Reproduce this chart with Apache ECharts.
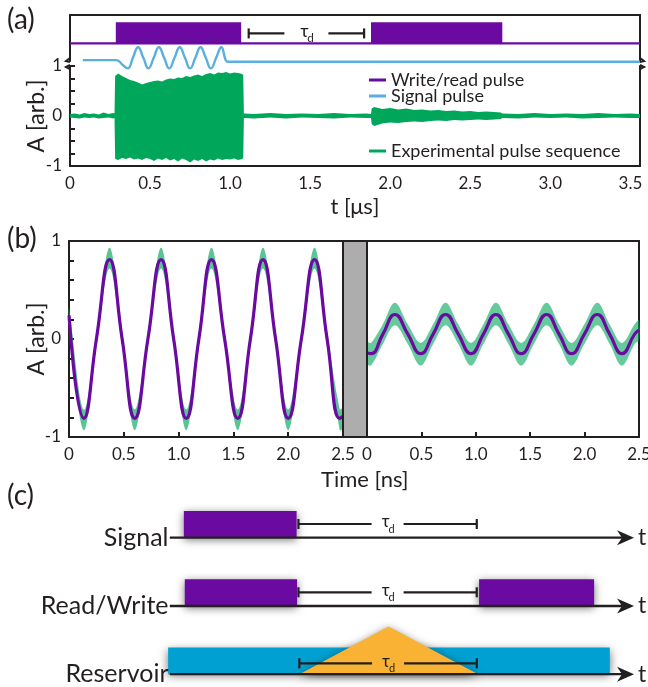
<!DOCTYPE html>
<html>
<head>
<meta charset="utf-8">
<script src="https://cdn.jsdelivr.net/npm/echarts@6/dist/echarts.min.js"></script>
<style>
html, body { margin: 0; padding: 0; background: #fff; }
#main { width: 648px; height: 687px; }
</style>
</head>
<body>
<div id="main"></div>
<script>
// ---- panel (a): pulse sequence, time in μs ----
const pulseWindows = [[0.286, 1.069], [1.88, 2.70]];   // write pulse, read pulse
const pulseBase = 0.385;
const pulseTop = 0.84;
const tauA = [[1.116, 1.837, 0.60]];

const sigT = [0.08, 0.29, 0.327, 0.36, 0.393, 0.425, 0.458, 0.49, 0.523, 0.555, 0.588, 0.62, 0.653,
  0.685, 0.718, 0.75, 0.783, 0.815, 0.848, 0.88, 0.913, 0.945, 0.972, 0.985, 3.56];
const sigA = [0.02, 0.02, -0.08, -0.16, 0.07, 0.30, 0.07, -0.16, 0.07, 0.30, 0.07, -0.16, 0.07,
  0.30, 0.07, -0.16, 0.07, 0.30, 0.07, -0.16, 0.07, 0.30, 0.02, -0.015, -0.015];

// experimental trace, upper / lower envelope
const expT = [0.00, 0.03, 0.06, 0.09, 0.12, 0.15, 0.18, 0.21, 0.24, 0.27, 0.278,
  0.282, 0.30, 0.325, 0.35, 0.375, 0.40, 0.425, 0.45, 0.475, 0.50, 0.525, 0.55, 0.575, 0.60,
  0.625, 0.65, 0.675, 0.70, 0.725, 0.75, 0.775, 0.80, 0.825, 0.85, 0.875, 0.90, 0.925, 0.95,
  0.975, 1.00, 1.025, 1.05, 1.075, 1.082,
  1.086, 1.15, 1.25, 1.35, 1.45, 1.55, 1.65, 1.75, 1.85, 1.880,
  1.884, 1.90, 1.95, 2.00, 2.05, 2.10, 2.15, 2.20, 2.25, 2.30, 2.35, 2.40, 2.45, 2.50, 2.55,
  2.60, 2.65, 2.69, 2.70,
  2.80, 2.90, 3.00, 3.10, 3.20, 3.30, 3.40, 3.50, 3.56];
const expHi = [0.04, 0.05, 0.03, 0.06, 0.04, 0.05, 0.03, 0.07, 0.04, 0.06, 0.05,
  0.80, 0.85, 0.80, 0.76, 0.72, 0.70, 0.67, 0.63, 0.66, 0.68, 0.70, 0.71, 0.69, 0.73,
  0.75, 0.74, 0.77, 0.76, 0.80, 0.78, 0.81, 0.83, 0.80, 0.84, 0.86, 0.83, 0.87, 0.86,
  0.88, 0.85, 0.87, 0.86, 0.84, 0.82,
  0.05, 0.04, 0.06, 0.04, 0.05, 0.04, 0.06, 0.04, 0.05, 0.04,
  0.15, 0.18, 0.14, 0.16, 0.13, 0.15, 0.12, 0.13, 0.11, 0.12, 0.10, 0.11, 0.09, 0.10, 0.08,
  0.09, 0.08, 0.07, 0.05,
  0.04, 0.06, 0.04, 0.05, 0.04, 0.06, 0.04, 0.05, 0.04];
const expLo = [-0.03, -0.04, -0.05, -0.03, -0.04, -0.03, -0.05, -0.04, -0.03, -0.05, -0.04,
  -0.86, -0.88, -0.84, -0.86, -0.83, -0.87, -0.85, -0.88, -0.84, -0.86, -0.90, -0.85, -0.88, -0.84,
  -0.89, -0.86, -0.91, -0.85, -0.88, -0.93, -0.87, -0.90, -0.86, -0.91, -0.87, -0.89, -0.85, -0.88,
  -0.86, -0.87, -0.85, -0.88, -0.86, -0.84,
  -0.04, -0.05, -0.03, -0.05, -0.03, -0.04, -0.05, -0.03, -0.04, -0.04,
  -0.16, -0.20, -0.15, -0.13, -0.14, -0.12, -0.11, -0.12, -0.10, -0.09, -0.10, -0.08, -0.09, -0.08, -0.07,
  -0.08, -0.07, -0.06, -0.04,
  -0.05, -0.03, -0.04, -0.03, -0.05, -0.04, -0.03, -0.04, -0.04];

// ---- panel (b): write (left) and read (right) traces, time in ns ----
const bLT = [0, 0.135, 0.25, 0.37, 0.485, 0.60, 0.72, 0.84, 0.955, 1.07, 1.185, 1.30, 1.42,
  1.54, 1.655, 1.77, 1.885, 2.00, 2.12, 2.24, 2.355, 2.47, 2.5];
const bLFit = [0.24, -0.81, 0, 0.81, 0, -0.81, 0, 0.81, 0, -0.81, 0, 0.81, 0,
  -0.81, 0, 0.81, 0, -0.81, 0, 0.81, 0, -0.81, -0.79];
const bLHi = [0.32, -0.72, 0.07, 0.93, 0.07, -0.72, 0.07, 0.93, 0.07, -0.72, 0.07, 0.93, 0.07,
  -0.72, 0.07, 0.93, 0.07, -0.72, 0.07, 0.93, 0.07, -0.72, -0.70];
const bLLo = [0.16, -0.93, -0.07, 0.72, -0.07, -0.93, -0.07, 0.72, -0.07, -0.93, -0.07, 0.72, -0.07,
  -0.93, -0.07, 0.72, -0.07, -0.93, -0.07, 0.72, -0.07, -0.93, -0.91];

const bRT = [0, 0.037, 0.146, 0.256, 0.375, 0.494, 0.608, 0.722, 0.839, 0.956, 1.07, 1.185,
  1.30, 1.417, 1.534, 1.651, 1.765, 1.88, 1.998, 2.117, 2.23, 2.343, 2.46, 2.5];
const bRFit = [-0.14, -0.15, 0.05, 0.25, 0.05, -0.15, 0.05, 0.25, 0.05, -0.15, 0.05, 0.25,
  0.05, -0.15, 0.05, 0.25, 0.05, -0.15, 0.05, 0.25, 0.05, -0.15, 0.05, 0.09];
const bRHi = [-0.03, -0.04, 0.15, 0.37, 0.15, -0.04, 0.15, 0.37, 0.15, -0.04, 0.15, 0.37,
  0.15, -0.04, 0.15, 0.37, 0.15, -0.04, 0.15, 0.37, 0.15, -0.04, 0.15, 0.19];
const bRLo = [-0.25, -0.27, -0.05, 0.14, -0.05, -0.27, -0.05, 0.14, -0.05, -0.27, -0.05, 0.14,
  -0.05, -0.27, -0.05, 0.14, -0.05, -0.27, -0.05, 0.14, -0.05, -0.27, -0.05, -0.01];

// ---- panel (c): schematic, arbitrary time units ----
const cRows = ['Reservoir', 'Read/Write', 'Signal'];
const cBoxes = [[0.30, 2.74, 2, 2.39], [0.32, 2.75, 1, 1.39], [6.69, 9.18, 1, 1.39]];
const cReservoir = [[-0.04, 9.52, 0, 0.39]];
const cTriangle = [[2.80, 4.73, 6.67, 0, 0.70]];
const cTau = [[2.78, 6.64, 2.20], [2.78, 6.64, 1.20], [2.80, 6.64, 0.16]];

const INK = '#231f20';
const PURPLE = '#6a0aa0';
const BLUE = '#5aafe0';
const GREEN = '#00a65a';
const FONT = 'Lato';

const zip = (xs, ys) => xs.map((x, i) => [x, ys[i]]);

const halfStep = v => Math.abs(v * 2 - Math.round(v * 2)) < 1e-6;
const xFmt = v => halfStep(v) ? (v === 0 ? '0' : v.toFixed(1)) : '';
const yFmt = v => (Math.abs(v - Math.round(v)) < 1e-6) ? String(Math.round(v)) : '';

function boxRender(shadow, color) {
    return function (params, api) {
        const a = api.coord([api.value(0), api.value(3)]);
        const b = api.coord([api.value(1), api.value(2)]);
        return {
            type: 'rect',
            shape: { x: a[0], y: a[1], width: b[0] - a[0], height: b[1] - a[1] },
            style: shadow
                ? { fill: color, shadowBlur: 9, shadowColor: 'rgba(0,0,0,0.55)', shadowOffsetY: 2 }
                : { fill: color }
        };
    };
}

// band between an upper and a lower envelope
function bandRender(xs, hi, lo, smooth, opacity) {
    return function (params, api) {
        const pts = [];
        for (let i = 0; i < xs.length; i++) pts.push(api.coord([xs[i], hi[i]]));
        for (let i = xs.length - 1; i >= 0; i--) pts.push(api.coord([xs[i], lo[i]]));
        return { type: 'polygon', shape: { points: pts, smooth: smooth }, style: { fill: GREEN, opacity: opacity } };
    };
}

function tauRender(gap, fs) {
    return function (params, api) {
        const p1 = api.coord([api.value(0), api.value(2)]);
        const p2 = api.coord([api.value(1), api.value(2)]);
        const mid = (p1[0] + p2[0]) / 2;
        const y = p1[1];
        const st = { stroke: INK, lineWidth: 2.2 };
        return {
            type: 'group',
            children: [
                { type: 'line', shape: { x1: p1[0], y1: y, x2: mid - gap, y2: y }, style: st },
                { type: 'line', shape: { x1: mid + gap, y1: y, x2: p2[0], y2: y }, style: st },
                { type: 'line', shape: { x1: p1[0], y1: y - 5, x2: p1[0], y2: y + 5 }, style: st },
                { type: 'line', shape: { x1: p2[0], y1: y - 5, x2: p2[0], y2: y + 5 }, style: st },
                { type: 'text', style: { text: 'τ', x: mid - 2, y: y - 2, fill: INK, fontSize: fs, fontFamily: FONT, align: 'center', verticalAlign: 'middle' } },
                { type: 'text', style: { text: 'd', x: mid + 4, y: y + 5, fill: INK, fontSize: fs * 0.65, fontFamily: FONT, align: 'center', verticalAlign: 'middle' } }
            ]
        };
    };
}

const lineAxis = { show: true, onZero: false, lineStyle: { color: INK, width: 2 } };
const noLabel = { show: false };
const noTick = { show: false };
const noSplit = { show: false };
const label17 = { color: INK, fontSize: 17, fontFamily: FONT };
const inTick = { show: true, inside: true, length: 5, lineStyle: { color: INK, width: 2 } };

const chart = echarts.init(document.getElementById('main'), null, { renderer: 'canvas' });

const arrowPath = 'path://M0,0 L6,12 L0,8.5 L-6,12 Z';

const rowSeries = cRows.map((name, i) => ({
    type: 'line', xAxisIndex: 6, yAxisIndex: 6, z: 6,
    lineStyle: { color: INK, width: 2.4 },
    itemStyle: { color: INK },
    data: [
        { value: [0, i], symbol: 'circle', symbolSize: 1,
          label: { show: true, position: 'left', distance: 1, formatter: name, fontSize: 25, color: INK, fontFamily: FONT } },
        { value: [9.86, i], symbol: arrowPath, symbolSize: [15, 17], symbolRotate: -90,
          label: { show: true, position: 'right', distance: 4, formatter: 't', fontSize: 23, color: INK, fontFamily: FONT } }
    ],
    silent: true
}));

const legendText = { fontSize: 18, color: INK, fontFamily: FONT, lineHeight: 16 };

const yTitle = (cy) => ({
    type: 'text', x: 37, y: cy, rotation: Math.PI / 2, z: 10,
    style: { text: 'A [arb.]', fill: INK, fontSize: 23, fontFamily: FONT, align: 'center', verticalAlign: 'middle' }
});

const option = {
    animation: false,
    backgroundColor: '#fff',
    textStyle: { fontFamily: FONT, color: INK },
    title: [
        { text: '(a)', left: 2, top: 1, textStyle: { fontSize: 28, fontWeight: 'normal', color: INK, fontFamily: FONT } },
        { text: '(b)', left: 2, top: 220, textStyle: { fontSize: 28, fontWeight: 'normal', color: INK, fontFamily: FONT } },
        { text: '(c)', left: 2, top: 477, textStyle: { fontSize: 28, fontWeight: 'normal', color: INK, fontFamily: FONT } },
        { text: 'Time [ns]', left: 316, top: 464, textStyle: { fontSize: 22, fontWeight: 'normal', color: INK, fontFamily: FONT } }
    ],
    legend: [
        { data: [{ name: 'Write/read pulse', icon: 'rect' }, { name: 'Signal pulse', icon: 'rect' }],
          left: 364, top: 66, orient: 'vertical', itemGap: -2,
          itemWidth: 17, itemHeight: 3, selectedMode: false, textStyle: legendText },
        { data: [{ name: 'Experimental pulse sequence', icon: 'rect' }], left: 364, top: 137, orient: 'vertical',
          itemWidth: 17, itemHeight: 3, selectedMode: false, textStyle: legendText }
    ],
    grid: [
        { left: 70, top: 15, width: 570, height: 46, outerBoundsMode: 'none' },
        { left: 70, top: 66, width: 570, height: 100, outerBoundsMode: 'none' },
        { left: 69, top: 241, width: 274, height: 196, outerBoundsMode: 'none' },
        { left: 367, top: 241, width: 272, height: 196, outerBoundsMode: 'none' },
        { left: 170, top: 503.5, width: 462, height: 170.75, outerBoundsMode: 'none' }
    ],
    xAxis: [
        { gridIndex: 0, type: 'value', position: 'top', min: 0, max: 3.56, axisLine: lineAxis, axisTick: noTick, axisLabel: noLabel, splitLine: noSplit },
        { gridIndex: 1, type: 'value', min: 0, max: 3.56, interval: 0.5, axisLine: lineAxis, axisTick: noTick,
          axisLabel: Object.assign({ margin: 9, formatter: xFmt }, label17), splitLine: noSplit,
          name: 't [μs]', nameLocation: 'middle', nameGap: 30,
          nameTextStyle: { fontSize: 22, color: INK, fontFamily: FONT } },
        { gridIndex: 2, type: 'value', min: 0, max: 2.5, interval: 0.5, axisLine: lineAxis, axisTick: inTick,
          axisLabel: Object.assign({ margin: 9, formatter: xFmt }, label17), splitLine: noSplit },
        { gridIndex: 2, type: 'value', position: 'top', min: 0, max: 2.5, axisLine: lineAxis, axisTick: noTick, axisLabel: noLabel, splitLine: noSplit },
        { gridIndex: 3, type: 'value', min: 0, max: 2.5, interval: 0.5, axisLine: lineAxis, axisTick: inTick,
          axisLabel: Object.assign({ margin: 9, formatter: xFmt }, label17), splitLine: noSplit },
        { gridIndex: 3, type: 'value', position: 'top', min: 0, max: 2.5, axisLine: lineAxis, axisTick: noTick, axisLabel: noLabel, splitLine: noSplit },
        { gridIndex: 4, type: 'value', min: 0, max: 10, show: false }
    ],
    yAxis: [
        { gridIndex: 0, type: 'value', min: 0, max: 1, axisLine: lineAxis, axisTick: noTick, axisLabel: noLabel, splitLine: noSplit },
        { gridIndex: 0, type: 'value', position: 'right', min: 0, max: 1, axisLine: lineAxis, axisTick: noTick, axisLabel: noLabel, splitLine: noSplit },
        { gridIndex: 1, type: 'value', min: -1, max: 1, interval: 0.25, axisLine: lineAxis, axisTick: inTick,
          axisLabel: Object.assign({ margin: 8, formatter: yFmt }, label17), splitLine: noSplit },
        { gridIndex: 1, type: 'value', position: 'right', min: -1, max: 1, axisLine: lineAxis, axisTick: noTick, axisLabel: noLabel, splitLine: noSplit },
        { gridIndex: 2, type: 'value', min: -1, max: 1, interval: 0.2, axisLine: lineAxis, axisTick: inTick,
          axisLabel: Object.assign({ margin: 8, formatter: yFmt }, label17), splitLine: noSplit },
        { gridIndex: 3, type: 'value', position: 'right', min: -1, max: 1, axisLine: lineAxis, axisTick: noTick, axisLabel: noLabel, splitLine: noSplit },
        { gridIndex: 4, type: 'value', min: 0, max: 2.5, show: false }
    ],
    series: [
        // (a) top: pulses
        { type: 'custom', name: 'pulses', xAxisIndex: 0, yAxisIndex: 0, z: 3,
          data: pulseWindows.map(w => [w[0], w[1], pulseBase, pulseTop]), renderItem: boxRender(false, PURPLE) },
        { type: 'line', name: 'Write/read pulse', xAxisIndex: 0, yAxisIndex: 0, showSymbol: false, z: 3, legendIcon: 'rect',
          itemStyle: { color: PURPLE }, lineStyle: { color: PURPLE, width: 2.2 },
          data: [[0, pulseBase], [3.56, pulseBase]] },
        { type: 'line', name: 'Signal pulse', xAxisIndex: 0, yAxisIndex: 0, showSymbol: false, smooth: 0.5, clip: false, z: 3, legendIcon: 'rect',
          itemStyle: { color: BLUE }, lineStyle: { color: BLUE, width: 2.4 },
          data: zip(sigT, sigA) },
        { type: 'custom', name: 'tauA', xAxisIndex: 0, yAxisIndex: 0, data: tauA, renderItem: tauRender(22, 18), z: 4 },
        // (a) experimental trace
        { type: 'custom', name: 'Experimental pulse sequence', xAxisIndex: 1, yAxisIndex: 2, z: 2,
          itemStyle: { color: GREEN }, data: [0], renderItem: bandRender(expT, expHi, expLo, 0, 1) },
        // (b) left
        { type: 'custom', xAxisIndex: 2, yAxisIndex: 4, z: 2, data: [0], renderItem: bandRender(bLT, bLHi, bLLo, 0.35, 0.65) },
        { type: 'line', xAxisIndex: 2, yAxisIndex: 4, smooth: 0.5, showSymbol: false, z: 4,
          lineStyle: { color: PURPLE, width: 3.2 }, data: zip(bLT, bLFit) },
        // (b) right
        { type: 'custom', xAxisIndex: 4, yAxisIndex: 5, z: 2, data: [0], renderItem: bandRender(bRT, bRHi, bRLo, 0.35, 0.6) },
        { type: 'line', xAxisIndex: 4, yAxisIndex: 5, smooth: 0.5, showSymbol: false, z: 4,
          lineStyle: { color: PURPLE, width: 3.2 }, data: zip(bRT, bRFit) },
        // (c) schematic
        { type: 'custom', xAxisIndex: 6, yAxisIndex: 6, z: 2, data: cReservoir, renderItem: boxRender(true, '#00a0d2') },
        { type: 'custom', xAxisIndex: 6, yAxisIndex: 6, z: 3, data: cTriangle,
          renderItem: function (params, api) {
              const a = api.coord([api.value(0), api.value(3)]);
              const b = api.coord([api.value(1), api.value(4)]);
              const c = api.coord([api.value(2), api.value(3)]);
              return { type: 'polygon', shape: { points: [a, b, c] },
                       style: { fill: '#f9b233', shadowBlur: 9, shadowColor: 'rgba(0,0,0,0.5)', shadowOffsetY: 2 } };
          } },
        { type: 'custom', xAxisIndex: 6, yAxisIndex: 6, z: 3, data: cBoxes, renderItem: boxRender(true, PURPLE) },
        { type: 'custom', xAxisIndex: 6, yAxisIndex: 6, z: 5, data: cTau, renderItem: tauRender(16, 17) }
    ].concat(rowSeries),
    graphic: [
        yTitle(116),
        yTitle(339),
        // gray break bar between the two traces of (b)
        { type: 'rect', shape: { x: 343, y: 241, width: 24, height: 196 }, style: { fill: '#adadad', stroke: INK, lineWidth: 2 }, z: 10 },
        // axis break marks in (a)
        { type: 'polyline', shape: { points: [[70, 58], [66, 61], [70, 62]] }, style: { stroke: INK, lineWidth: 2, fill: null }, z: 10 },
        { type: 'polyline', shape: { points: [[70, 65], [66, 67], [70, 69]] }, style: { stroke: INK, lineWidth: 2, fill: null }, z: 10 },
        { type: 'polyline', shape: { points: [[640, 58], [644, 61], [640, 62]] }, style: { stroke: INK, lineWidth: 2, fill: null }, z: 10 },
        { type: 'polyline', shape: { points: [[640, 65], [644, 67], [640, 69]] }, style: { stroke: INK, lineWidth: 2, fill: null }, z: 10 }
    ]
};

chart.setOption(option);
</script>
</body>
</html>
